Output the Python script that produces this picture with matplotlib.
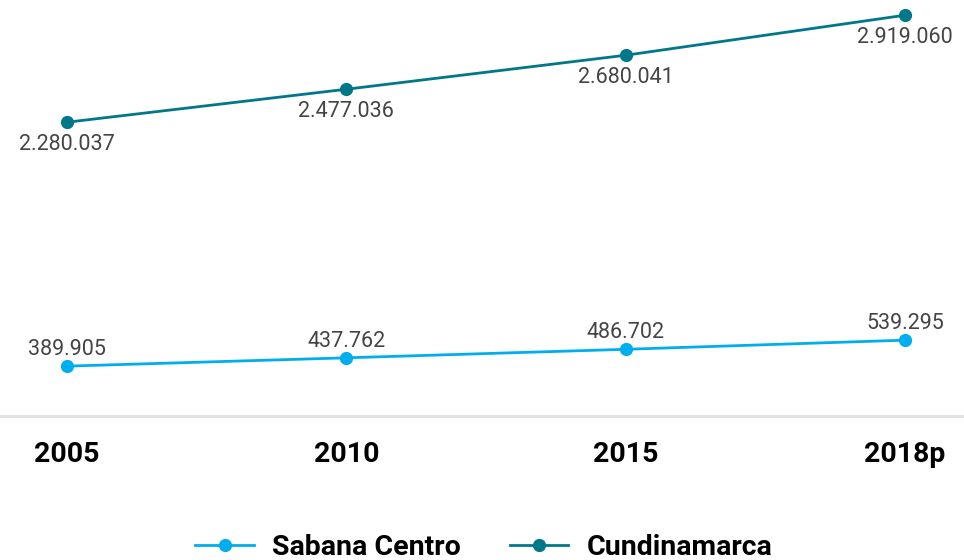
import matplotlib
matplotlib.use("Agg")
import matplotlib.pyplot as plt
from matplotlib.lines import Line2D

years = ["2005", "2010", "2015", "2018p"]
sabana = [389905, 437762, 486702, 539295]
cundinamarca = [2280037, 2477036, 2680041, 2919060]
sabana_name = "Sabana Centro"
cund_name = "Cundinamarca"

c_sab = "#00AEEF"
c_cun = "#00788A"

plt.rcParams['font.family'] = ['Roboto', 'DejaVu Sans']

def fmt(v):
    return f"{v:,}".replace(",", ".")

fig = plt.figure(figsize=(9.64, 5.6), dpi=100)
ax1 = fig.add_axes([0, 144/560, 1, 416/560])
ax2 = ax1.twinx()
x = list(range(len(years)))

ax1.plot(x, sabana, color=c_sab, lw=2, marker='o', ms=8.5, zorder=3)
ax2.plot(x, cundinamarca, color=c_cun, lw=2, marker='o', ms=8.5, zorder=3)

ax1.set_xlim(-0.24, 3.211)
ax1.set_ylim(103428, 2493764)
ax2.set_ylim(525536, 3009888)

for xi, v in zip(x, sabana):
    ax1.annotate(fmt(v), (xi, v), xytext=(0, 12), textcoords='offset points',
                 ha='center', va='center', fontsize=15.5, color='#444444')
for xi, v in zip(x, cundinamarca):
    ax2.annotate(fmt(v), (xi, v), xytext=(0, -16), textcoords='offset points',
                 ha='center', va='center', fontsize=15.5, color='#444444')

for ax in (ax1, ax2):
    for s in ax.spines.values():
        s.set_visible(False)
    ax.set_yticks([])
    ax.patch.set_visible(False)
ax1.spines['bottom'].set_visible(True)
ax1.spines['bottom'].set_color('#e0e0e0')
ax1.spines['bottom'].set_linewidth(2)
ax1.set_xticks(x)
ax1.set_xticklabels(years, fontsize=20.5, fontweight='bold', color='black')
ax1.tick_params(axis='x', length=0, pad=18)

handles = [Line2D([], [], color=c_sab, lw=2, marker='o', ms=8.5),
           Line2D([], [], color=c_cun, lw=2, marker='o', ms=8.5)]
leg = fig.legend(handles, [sabana_name, cund_name], loc='center',
                 bbox_to_anchor=(0.502, 0.022), ncol=2, frameon=False,
                 prop={'size': 20.5, 'weight': 'bold'},
                 handlelength=2.06, handletextpad=0.65, columnspacing=1.7)

fig.savefig("out.png", dpi=100)
